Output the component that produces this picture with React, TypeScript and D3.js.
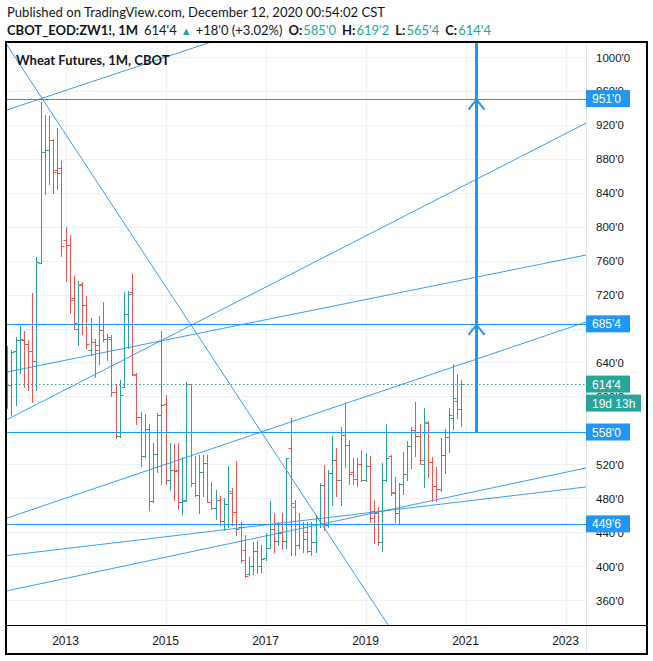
import React from "react";
import * as d3 from "d3";

// ---------- DATA ----------
const barDates: string[] = [
  "2011-11", "2011-12",
  "2012-01", "2012-02", "2012-03", "2012-04", "2012-05", "2012-06", "2012-07", "2012-08", "2012-09", "2012-10", "2012-11", "2012-12",
  "2013-01", "2013-02", "2013-03", "2013-04", "2013-05", "2013-06", "2013-07", "2013-08", "2013-09", "2013-10", "2013-11", "2013-12",
  "2014-01", "2014-02", "2014-03", "2014-04", "2014-05", "2014-06", "2014-07", "2014-08", "2014-09", "2014-10", "2014-11", "2014-12",
  "2015-01", "2015-02", "2015-03", "2015-04", "2015-05", "2015-06", "2015-07", "2015-08", "2015-09", "2015-10", "2015-11", "2015-12",
  "2016-01", "2016-02", "2016-03", "2016-04", "2016-05", "2016-06", "2016-07", "2016-08", "2016-09", "2016-10", "2016-11", "2016-12",
  "2017-01", "2017-02", "2017-03", "2017-04", "2017-05", "2017-06", "2017-07", "2017-08", "2017-09", "2017-10", "2017-11", "2017-12",
  "2018-01", "2018-02", "2018-03", "2018-04", "2018-05", "2018-06", "2018-07", "2018-08", "2018-09", "2018-10", "2018-11", "2018-12",
  "2019-01", "2019-02", "2019-03", "2019-04", "2019-05", "2019-06", "2019-07", "2019-08", "2019-09", "2019-10", "2019-11", "2019-12",
  "2020-01", "2020-02", "2020-03", "2020-04", "2020-05", "2020-06", "2020-07", "2020-08", "2020-09", "2020-10", "2020-11", "2020-12",
];

const barOpen: number[] = [
  628, 613,
  654, 666, 667, 662, 654, 642, 757, 888, 890, 902, 867, 869,
  784, 779, 716, 680, 732, 708, 655, 664, 660, 678, 668, 668,
  605, 553, 611, 697, 723, 625, 576, 530, 562, 477, 532, 578,
  591, 502, 513, 513, 475, 478, 615, 498, 484, 511, 522, 476,
  469, 478, 453, 473, 486, 464, 446, 419, 391, 400, 418, 400,
  410, 421, 444, 429, 440, 430, 539, 470, 425, 450, 440, 418,
  428, 450, 496, 448, 510, 525, 501, 555, 543, 511, 503, 520,
  502, 518, 465, 463, 428, 502, 530, 486, 463, 497, 509, 542,
  560, 553, 520, 569, 523, 494, 491, 531, 552, 574, 594, 585,
];

const barHigh: number[] = [
  659, 655,
  670, 683, 677, 666, 722, 764, 947, 932, 930, 903, 916, 877,
  800, 790, 742, 736, 735, 718, 692, 668, 695, 711, 674, 672,
  615, 619, 723, 724, 744, 627, 581, 579, 567, 545, 580, 677,
  602, 545, 544, 545, 529, 617, 615, 530, 531, 531, 531, 499,
  490, 482, 480, 518, 492, 524, 452, 437, 411, 428, 430, 425,
  439, 477, 462, 452, 462, 527, 574, 478, 462, 452, 452, 452,
  460, 498, 519, 513, 553, 539, 564, 592, 548, 527, 527, 537,
  533, 530, 478, 470, 521, 568, 531, 505, 498, 535, 547, 564,
  593, 568, 586, 571, 528, 517, 551, 561, 586, 638, 626, 619.25,
];

const barLow: number[] = [
  586, 578,
  590, 628, 611, 608, 593, 608, 757, 838, 850, 840, 844, 765,
  736, 698, 680, 660, 674, 657, 649, 623, 638, 665, 643, 600,
  551, 552, 611, 657, 625, 568, 518, 529, 466, 476, 511, 497,
  497, 490, 478, 467, 461, 477, 494, 482, 463, 483, 475, 467,
  456, 448, 443, 446, 448, 437, 405, 387, 389, 391, 392, 393,
  407, 421, 417, 425, 420, 421, 413, 413, 421, 417, 416, 413,
  417, 446, 443, 446, 472, 482, 472, 517, 497, 497, 494, 500,
  500, 452, 427, 425, 418, 500, 484, 452, 451, 485, 502, 516,
  530, 520, 493, 505, 477, 477, 488, 510, 534, 561, 574, 565.5,
];

const barClose: number[] = [
  613, 652,
  666, 668, 662, 654, 642, 758, 888, 890, 902, 865, 863, 777,
  779, 714, 687, 731, 708, 662, 664, 655, 678, 668, 670, 605,
  553, 602, 697, 721, 626, 576, 530, 562, 477, 532, 578, 590,
  502, 513, 512, 475, 477, 615, 498, 484, 511, 522, 476, 469,
  478, 453, 473, 488, 464, 444, 407, 388, 400, 418, 400, 408,
  421, 444, 429, 439, 430, 527, 474, 425, 450, 432, 418, 428,
  450, 496, 448, 510, 525, 501, 554, 543, 509, 503, 520, 502,
  518, 457, 463, 428, 502, 527, 487, 463, 497, 509, 542, 560,
  553, 525, 570, 523, 494, 491, 531, 552, 578, 598, 585, 614.5,
];

const priceTicks: number[] = [360, 400, 440, 480, 520, 560, 600, 640, 680, 720, 760, 800, 840, 880, 920, 960, 1000];
const yearTicks: number[] = [2013, 2015, 2017, 2019, 2021, 2023];

// horizontal drawn levels (price)
const horizontalLevels: number[] = [951, 685.5, 558, 449.75];
const lastClose = 614.5;
const countdownText = "19d 13h";

// trend lines: [monthIndex1 (0 = Jan 2013), price1, monthIndex2, price2]
const trendLines: number[][] = [
  [-8.52, 972.9, 73.49, 360],
  [-14.11, 937.5, 34.2, 1016.5],
  [-14.04, 456.6, 124.92, 687.6],
  [-14.04, 572.7, 124.92, 922],
  [-14.04, 628.7, 124.92, 766.6],
  [-14.04, 412.4, 124.92, 493.2],
  [-14.04, 370.8, 124.92, 515.6],
];

// vertical projection arrow
const projectionMonth = 98.52;
const projectionBase = 558;
const projectionArrows: number[] = [951, 685.5];

const headerLine1 = "Published on TradingView.com, December 12, 2020 00:54:02 CST";
const symbolText = "CBOT_EOD:ZW1!, 1M";
const lastText = "614'4";
const changeText = "+18'0 (+3.02%)";
const ohlcLabels: string[] = ["O:", "H:", "L:", "C:"];
const ohlcValues: string[] = ["585'0", "619'2", "565'4", "614'4"];
const chartTitle = "Wheat Futures, 1M, CBOT";

// ---------- STYLE ----------
const TEAL = "#26a69a";
const RED = "#ef5350";
const BLUE = "#2196f3";
const TXT = "#131722";
const GRID = "#eef0f3";
const FONT = "Lato, 'Liberation Sans', Arial, sans-serif";
const AXFONT = "'Liberation Sans', Arial, sans-serif";

const fmt = (p: number) => {
  const i = Math.floor(p + 1e-9);
  const e = Math.round((p - i) * 8);
  return `${i}'${e}`;
};

const monthIndex = (s: string) => {
  const [yy, mm] = s.split("-").map(Number);
  return (yy - 2013) * 12 + (mm - 1);
};

export default function App() {
  const W = 653, H = 661;
  const plot = { left: 7, right: 586, top: 43, bottom: 625 };

  const x = d3.scaleLinear().domain([0, 120]).range([65.5, 565.5]);
  const y = d3.scaleLinear().domain([360, 1000]).range([600, 57]);

  const bars = barDates.map((d, i) => ({
    m: monthIndex(d),
    o: barOpen[i], h: barHigh[i], l: barLow[i], c: barClose[i],
  }));

  const extLine = (t: number[]) => {
    const x1 = x(t[0]), y1 = y(t[1]), x2 = x(t[2]), y2 = y(t[3]);
    const k = (y2 - y1) / (x2 - x1);
    const xa = plot.left - 20, xb = plot.right + 20;
    return { x1: xa, y1: y1 + k * (xa - x1), x2: xb, y2: y1 + k * (xb - x1) };
  };

  const px = Math.round(x(projectionMonth)) + 0.5;

  // tick labels fully covered by a price box are not drawn (they are hidden in the reference too)
  const boxCenters = [...horizontalLevels.map((p) => y(p)), y(lastClose)];
  const visibleTicks = priceTicks.filter((p) => boxCenters.every((c) => Math.abs(y(p) - c) > 5.5));

  const box = (val: number, fill: string, text: string, w = 44, dy = 0) => {
    const yc = y(val) + dy;
    return (
      <g key={text + dy}>
        <rect x={plot.right} y={yc - 8.5} width={w} height={17} fill={fill} />
        <text x={plot.right + 6} y={yc + 4.5} fill="#fff" fontSize={12} fontFamily={AXFONT}>{text}</text>
      </g>
    );
  };

  return (
    <svg width={W} height={H} style={{ position: "absolute", left: 0, top: 0, background: "#fff" }}>
      <defs>
        <clipPath id="plotClip">
          <rect x={plot.left} y={plot.top} width={plot.right - plot.left} height={plot.bottom - plot.top} />
        </clipPath>
      </defs>
      <rect x={0} y={0} width={W} height={H} fill="#fff" />

      {/* header */}
      <text x={7} y={17} fontSize={13.1} fontFamily={FONT} fill={TXT}>{headerLine1}</text>
      <text x={7} y={34.5} fontSize={13} fontFamily={FONT} fill={TXT}>
        <tspan fontWeight="bold">{symbolText}</tspan>
        <tspan dx={6}>{lastText}</tspan>
        <tspan dx={4} fill={TEAL} fontSize={11}>▲</tspan>
        <tspan dx={4}>{changeText}</tspan>
        {ohlcLabels.map((lab, i) => (
          <React.Fragment key={lab}>
            <tspan dx={6} fontWeight="bold">{lab}</tspan>
            <tspan dx={1} fill={TEAL}>{ohlcValues[i]}</tspan>
          </React.Fragment>
        ))}
      </text>

      {/* grid */}
      <g clipPath="url(#plotClip)">
        {priceTicks.map((p) => (
          <line key={"hg" + p} x1={plot.left} x2={plot.right} y1={Math.round(y(p)) + 0.5} y2={Math.round(y(p)) + 0.5} stroke={GRID} />
        ))}
        {yearTicks.map((yr) => {
          const xx = Math.round(x((yr - 2013) * 12)) + 0.5;
          return <line key={"vg" + yr} x1={xx} x2={xx} y1={plot.top} y2={plot.bottom} stroke={GRID} />;
        })}
      </g>

      {/* bars */}
      <g clipPath="url(#plotClip)">
        {bars.map((b, i) => {
          const cx = Math.round(x(b.m)) + 0.5;
          const yo = Math.round(y(b.o)) + 0.5;
          const yc = Math.round(y(b.c)) + 0.5;
          const col = b.c >= b.o ? TEAL : RED;
          return (
            <g key={"b" + i} stroke={col} strokeWidth={1}>
              <line x1={cx} x2={cx} y1={Math.round(y(b.h))} y2={Math.round(y(b.l)) + 1} />
              <line x1={cx - 3} x2={cx} y1={yo} y2={yo} />
              <line x1={cx} x2={cx + 3} y1={yc} y2={yc} />
            </g>
          );
        })}
      </g>

      {/* drawings */}
      <g clipPath="url(#plotClip)">
        <line x1={plot.left} x2={plot.right} y1={Math.round(y(lastClose)) + 0.5} y2={Math.round(y(lastClose)) + 0.5}
          stroke={TEAL} strokeDasharray="1.5 2.5" strokeWidth={1} />
        {horizontalLevels.map((p) => (
          <line key={"hl" + p} x1={plot.left} x2={plot.right} y1={Math.round(y(p)) + 0.5} y2={Math.round(y(p)) + 0.5}
            stroke={BLUE} strokeWidth={1.2} />
        ))}
        {trendLines.map((t, i) => {
          const l = extLine(t);
          return <line key={"tl" + i} {...l} stroke={BLUE} strokeWidth={1} opacity={0.9} />;
        })}
        <line x1={px} x2={px} y1={plot.top} y2={y(projectionBase)} stroke={BLUE} strokeWidth={3} />
        {projectionArrows.map((p) => {
          const ya = y(p) + 1;
          return (
            <path key={"ar" + p} d={`M${px - 8},${ya + 10} L${px},${ya} L${px + 8},${ya + 10}`}
              fill="none" stroke={BLUE} strokeWidth={2} />
          );
        })}
      </g>

      {/* title */}
      <text x={16} y={65} fontSize={13} fontWeight="bold" fontFamily={FONT} fill={TXT}>{chartTitle}</text>

      {/* price axis */}
      <line x1={plot.right + 0.5} x2={plot.right + 0.5} y1={plot.top} y2={654} stroke="#e0e3eb" />
      {visibleTicks.map((p) => (
        <text key={"pt" + p} x={596} y={y(p) + 4.5} fontSize={11.5} fontFamily={AXFONT} fill={TXT}>{fmt(p)}</text>
      ))}
      {horizontalLevels.map((p) => box(p, BLUE, fmt(p)))}
      {box(lastClose, TEAL, fmt(lastClose))}
      {box(lastClose, TEAL, countdownText, 55, 19)}

      {/* time axis */}
      <line x1={6} x2={647} y1={625.5} y2={625.5} stroke="#000" strokeWidth={1} />
      {yearTicks.map((yr) => (
        <text key={"yt" + yr} x={x((yr - 2013) * 12)} y={645} textAnchor="middle" fontSize={12} fontFamily={AXFONT} fill={TXT}>{yr}</text>
      ))}

      {/* frame */}
      <rect x={6} y={42} width={641} height={612} fill="none" stroke="#000" strokeWidth={2} />
    </svg>
  );
}
